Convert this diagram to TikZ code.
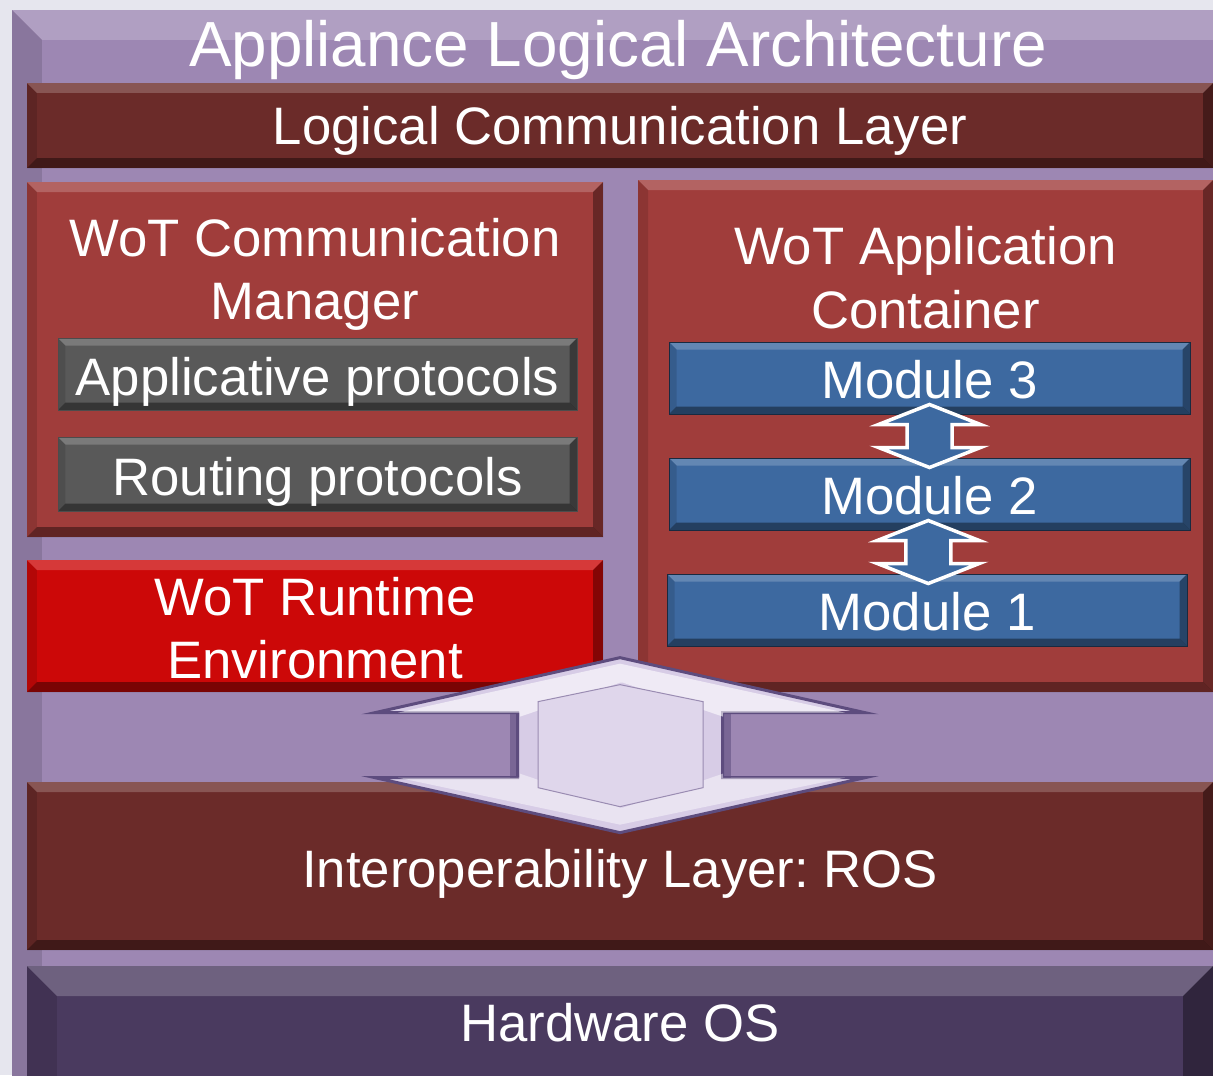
\documentclass[tikz,border=0pt]{standalone}
\usepackage{fontspec}
\setmainfont{Liberation Sans}
\usetikzlibrary{fit,calc}
\frenchspacing

\definecolor{pagegrey}{HTML}{E6E6EE}
\definecolor{lilac}{HTML}{9D87B3}
\definecolor{maroon}{HTML}{6B2B29}
\definecolor{brick}{HTML}{A03D3B}
\definecolor{slate}{HTML}{595959}
\definecolor{signal}{HTML}{CC0808}
\definecolor{modblue}{HTML}{3D69A0}
\definecolor{plum}{HTML}{4A3A5F}
\definecolor{hubfill}{HTML}{D7CCE6}
\definecolor{hubedge}{HTML}{5D4C7E}

\tikzset{
  bevel/.style={path picture={
    \coordinate (bnw) at (path picture bounding box.north west);
    \coordinate (bne) at (path picture bounding box.north east);
    \coordinate (bsw) at (path picture bounding box.south west);
    \coordinate (bse) at (path picture bounding box.south east);
    \fill[white,opacity=.2] (bnw) -- (bne) -- ([shift={(-#1,-#1)}]bne) -- ([shift={(#1,-#1)}]bnw) -- cycle;
    \fill[black,opacity=.4] (bsw) -- (bse) -- ([shift={(-#1,#1)}]bse) -- ([shift={(#1,#1)}]bsw) -- cycle;
    \fill[black,opacity=.12] (bnw) -- (bsw) -- ([shift={(#1,#1)}]bsw) -- ([shift={(#1,-#1)}]bnw) -- cycle;
    \fill[black,opacity=.35] (bne) -- (bse) -- ([shift={(-#1,#1)}]bse) -- ([shift={(-#1,-#1)}]bne) -- cycle;
  }},
  block/.style={rectangle, inner sep=0pt, bevel=0.2cm},
  caption/.style={inner sep=0pt, text=white, align=center,
    font=\fontsize{30}{36}\selectfont},
  modlink/.style={fill=modblue, draw=white, line width=0.07cm, line join=miter},
}

\begin{document}
\begin{tikzpicture}[x=0.02cm, y=-0.02cm]
    \useasboundingbox (0,0) rectangle (1213,1075);
    \clip (0,0) rectangle (1213,1075);
    \fill [pagegrey] (0,0) rectangle (1213,1075);
    \node [block, fill=lilac, bevel=0.6cm, fit={(12,10) (1260,1120)}] (frame) {};
    \node [caption, font=\fontsize{36.3}{40}\selectfont] (title) at (618,50) {Appliance Logical Architecture};
    \node [block, fill=maroon, fit={(27,83) (1213,168)}] (lcl) {};
    \node [caption] (lcltext) at ($(lcl.center)+(0,5.5)$) {Logical Communication Layer};
    \node [block, fill=brick, fit={(27,182) (603,537)}] (wcm) {};
    \node [caption] (wcmtext) at ($(wcm.north)+(0,93)$) {WoT Communication\\Manager};
    \node [block, fill=slate, draw=black!70, bevel=0.15cm, fit={(58,338) (577,410)}] (app) {};
    \node [caption] (apptext) at ($(app.center)+(0,8)$) {Applicative protocols};
    \node [block, fill=slate, draw=black!70, bevel=0.15cm, fit={(58,437) (577,511)}] (rout) {};
    \node [caption] (routtext) at ($(rout.center)+(0,8)$) {Routing protocols};
    \node [block, fill=signal, fit={(27,560) (603,692)}] (rte) {};
    \node [caption] (rtetext) at ($(rte.center)+(0,2)$) {WoT Runtime\\Environment};
    \node [block, fill=brick, fit={(638,180) (1213,692)}] (wac) {};
    \node [caption] (wactext) at ($(wac.north)+(0,98)$) {WoT Application\\Container};
    \node [block, fill=modblue, draw=modblue!40!black, bevel=0.15cm, fit={(669,342) (1190,414)}] (m3) {};
    \node [caption] (m3text) at ($(m3.center)+(0,2)$) {Module 3};
    \node [block, fill=modblue, draw=modblue!40!black, bevel=0.15cm, fit={(669,458) (1190,530)}] (m2) {};
    \node [caption] (m2text) at ($(m2.center)+(0,2)$) {Module 2};
    \node [block, fill=modblue, draw=modblue!40!black, bevel=0.15cm, fit={(667,574) (1187,646)}] (m1) {};
    \node [caption] (m1text) at ($(m1.center)+(0,2)$) {Module 1};
    \node [block, fill=maroon, fit={(27,782) (1213,950)}] (ros) {};
    \node [caption] (rostext) at ($(ros.center)+(0,8)$) {Interoperability Layer: ROS};
    \node [block, fill=plum, bevel=0.6cm, fit={(27,966) (1213,1110)}] (hw) {};
    \node [caption] (hwtext) at (620,1023) {Hardware OS};
    % links between the modules
    \coordinate (l32) at ($(m3.south)!.5!(m2.north)$);
    \coordinate (l21) at ($(m2.south)!.5!(m1.north)$);
    \draw [modlink] (l32) ++(0,-31.5) -- ++(51,20) -- ++(-28.5,0) -- ++(0,23) -- ++(28.5,0) -- ++(-51,20)
        -- ++(-51,-20) -- ++(28.5,0) -- ++(0,-23) -- ++(-28.5,0) -- cycle;
    \draw [modlink] (l21) ++(0,-31.5) -- ++(51,20) -- ++(-28.5,0) -- ++(0,23) -- ++(28.5,0) -- ++(-51,20)
        -- ++(-51,-20) -- ++(28.5,0) -- ++(0,-23) -- ++(-28.5,0) -- cycle;
    % runtime <-> interoperability layer
    \coordinate (hub) at ($(ros.north)+(0,-124)$);
    \draw [fill=hubfill, draw=hubedge, line width=0.06cm, line join=miter] (hub) -- ++(245,55) -- ++(-142.5,0)
        -- ++(0,65) -- ++(142.5,0) -- ++(-245,55) -- ++(-245,-55) -- ++(142.5,0) -- ++(0,-65)
        -- ++(-142.5,0) -- cycle;
    \fill [white, opacity=.6] (hub) ++(0,6) -- ++(225,49) -- ++(-122,0) -- ++(0,4) -- ++(-100,-34) -- ++(-3,0)
        -- ++(-100,34) -- ++(0,-4) -- ++(-122,0) -- cycle;
    \fill [white, opacity=.45] (hub) ++(0,167) -- ++(225,-47) -- ++(-122,0) -- ++(0,-4) -- ++(-100,34) -- ++(-3,0)
        -- ++(-100,-34) -- ++(0,4) -- ++(-122,0) -- cycle;
    \fill [hubedge, opacity=.55] (hub) ++(-102.5,55) rectangle ++(-8,65);
    \fill [hubedge, opacity=.55] (hub) ++(102.5,55) rectangle ++(8,65);
    \draw [fill=hubfill!80!white, draw=hubedge!50!hubfill, line width=0.02cm] (hub) ++(0,27) -- ++(83,17) -- ++(0,86)
        -- ++(-83,19) -- ++(-82,-19) -- ++(0,-86) -- cycle;
\end{tikzpicture}
\end{document}
